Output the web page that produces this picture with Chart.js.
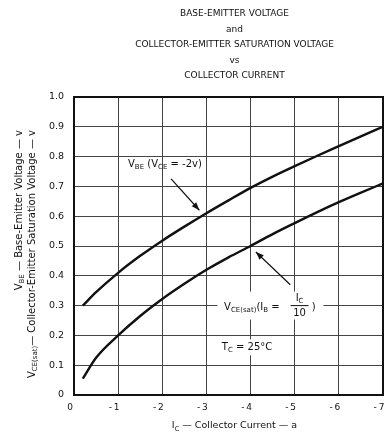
<!DOCTYPE html>
<html>
<head>
<meta charset="utf-8">
<script src="https://cdn.jsdelivr.net/npm/chart.js@4"></script>
<style>
  html, body { margin: 0; padding: 0; background: #fff; }
  #wrap { width: 386px; height: 445px; position: relative; }
</style>
</head>
<body>
<div id="wrap"><canvas id="chart"></canvas></div>
<script>
// collector current (a) and the two curves
const currentA = [-0.2, -0.5, -1, -1.5, -2, -2.5, -3, -3.5, -4, -4.5, -5, -5.5, -6, -6.5, -7];
const vbe = [0.30, 0.345, 0.41, 0.467, 0.518, 0.565, 0.61, 0.653, 0.695, 0.733, 0.768, 0.802, 0.835, 0.868, 0.90];
const vceSat = [0.055, 0.125, 0.20, 0.265, 0.322, 0.373, 0.42, 0.462, 0.50, 0.54, 0.577, 0.613, 0.647, 0.679, 0.71];

const titleLines = ['BASE-EMITTER VOLTAGE', 'and', 'COLLECTOR-EMITTER SATURATION VOLTAGE', 'vs', 'COLLECTOR CURRENT'];
const xTicks = [0, -1, -2, -3, -4, -5, -6, -7];
const yTicks = [0, 0.1, 0.2, 0.3, 0.4, 0.5, 0.6, 0.7, 0.8, 0.9, 1.0];

const FONT = '"DejaVu Sans", sans-serif';

// draw text with subscript parts: parts = [[text, isSub], ...]
function richWidth(ctx, parts, size) {
    let w = 0;
    parts.forEach(p => {
        ctx.font = (p[1] ? size * 0.7 : size) + 'px ' + FONT;
        w += ctx.measureText(p[0]).width;
    });
    return w;
}
function drawRich(ctx, x, y, parts, size, align) {
    const w = richWidth(ctx, parts, size);
    let cx = x;
    if (align === 'center') cx = x - w / 2;
    if (align === 'right') cx = x - w;
    ctx.textAlign = 'left';
    ctx.textBaseline = 'middle';
    parts.forEach(p => {
        ctx.font = (p[1] ? size * 0.7 : size) + 'px ' + FONT;
        ctx.fillText(p[0], cx, p[1] ? y + size * 0.3 : y);
        cx += ctx.measureText(p[0]).width;
    });
    return w;
}
function arrow(ctx, x1, y1, x2, y2) {
    ctx.beginPath();
    ctx.moveTo(x1, y1);
    ctx.lineTo(x2, y2);
    ctx.lineWidth = 1.2;
    ctx.stroke();
    const a = Math.atan2(y2 - y1, x2 - x1);
    const L = 8, W = 3;
    ctx.beginPath();
    ctx.moveTo(x2, y2);
    ctx.lineTo(x2 - L * Math.cos(a) + W * Math.sin(a), y2 - L * Math.sin(a) - W * Math.cos(a));
    ctx.lineTo(x2 - L * Math.cos(a) - W * Math.sin(a), y2 - L * Math.sin(a) + W * Math.cos(a));
    ctx.closePath();
    ctx.fill();
}

const decor = {
    id: 'decor',
    afterDatasetsDraw(chart) {
        const ctx = chart.ctx;
        const xs = chart.scales.x, ys = chart.scales.y;
        const area = chart.chartArea;
        const px = v => xs.getPixelForValue(v);
        const py = v => ys.getPixelForValue(v);
        ctx.save();
        ctx.fillStyle = '#111';
        ctx.strokeStyle = '#111';

        // frame
        ctx.lineWidth = 2;
        ctx.strokeRect(area.left, area.top, area.right - area.left, area.bottom - area.top);

        // title
        ctx.font = '9px ' + FONT;
        ctx.textAlign = 'center';
        ctx.textBaseline = 'middle';
        const tc = (area.left + area.right) / 2 + 6;
        titleLines.forEach((t, i) => ctx.fillText(t, tc, 14 + i * 15.5));

        // y axis title (two rotated lines, top aligned)
        ctx.save();
        ctx.translate(19, 130);
        ctx.rotate(-Math.PI / 2);
        drawRich(ctx, 0, 0, [['V', 0], ['BE', 1], [' \u2014 Base-Emitter Voltage \u2014 v', 0]], 10, 'right');
        ctx.restore();
        ctx.save();
        ctx.translate(32, 130);
        ctx.rotate(-Math.PI / 2);
        drawRich(ctx, 0, 0, [['V', 0], ['CE(sat)', 1], ['\u2014 Collector-Emitter Saturation Voltage \u2014 v', 0]], 10, 'right');
        ctx.restore();

        // x axis title
        drawRich(ctx, tc, 426, [['I', 0], ['C', 1], [' \u2014 Collector Current \u2014 a', 0]], 9.5, 'center');

        // VBE label and arrow
        drawRich(ctx, px(-2.06), py(0.775), [['V', 0], ['BE', 1], [' (V', 0], ['CE', 1], [' = -2v)', 0]], 10, 'center');
        arrow(ctx, px(-2.2), py(0.725), px(-2.84), py(0.62));

        // VCE(sat) label with white box
        const lx = px(-3.4), ly = py(0.3);
        ctx.fillStyle = '#fff';
        ctx.fillRect(px(-3.25), ly - 14, px(-5.65) - px(-3.25), 28);
        ctx.fillStyle = '#111';
        let w = drawRich(ctx, lx, ly + 2, [['V', 0], ['CE(sat)', 1], ['(I', 0], ['B', 1], [' =', 0]], 10, 'left');
        const fx = lx + w + 20;
        drawRich(ctx, fx, ly - 7, [['I', 0], ['C', 1]], 10, 'center');
        ctx.lineWidth = 1;
        ctx.beginPath();
        ctx.moveTo(fx - 9, ly);
        ctx.lineTo(fx + 9, ly);
        ctx.stroke();
        ctx.font = '10px ' + FONT;
        ctx.textAlign = 'center';
        ctx.fillText('10', fx, ly + 8);
        ctx.fillText(')', fx + 14, ly + 2);
        arrow(ctx, px(-4.9), py(0.37), px(-4.12), py(0.48));

        // TC label with white box
        const tx = px(-3.92), ty = py(0.16);
        ctx.fillStyle = '#fff';
        ctx.fillRect(px(-3.1), ty - 8, px(-4.5) - px(-3.1), 16);
        ctx.fillStyle = '#111';
        drawRich(ctx, tx, ty, [['T', 0], ['C', 1], [' = 25\u00b0C', 0]], 10, 'center');

        ctx.restore();
    }
};

new Chart(document.getElementById('chart'), {
    type: 'line',
    data: {
        datasets: [
            {
                label: 'VBE',
                data: currentA.map((x, i) => ({ x: x, y: vbe[i] })),
                borderColor: '#111',
                borderWidth: 2.4,
                pointRadius: 0,
                cubicInterpolationMode: 'monotone',
                fill: false
            },
            {
                label: 'VCE(sat)',
                data: currentA.map((x, i) => ({ x: x, y: vceSat[i] })),
                borderColor: '#111',
                borderWidth: 2.4,
                pointRadius: 0,
                cubicInterpolationMode: 'monotone',
                fill: false
            }
        ]
    },
    options: {
        responsive: true,
        maintainAspectRatio: false,
        animation: false,
        layout: { padding: { left: 0, top: 97, right: 3, bottom: 0 } },
        plugins: {
            legend: { display: false },
            tooltip: { enabled: false },
            title: { display: false }
        },
        scales: {
            x: {
                type: 'linear',
                reverse: true,
                min: -7,
                max: 0,
                afterFit(scale) {
                    scale.height = 50;
                    scale.paddingLeft = 0;
                    scale.paddingRight = 0;
                },
                afterBuildTicks(scale) { scale.ticks = xTicks.map(v => ({ value: v })); },
                grid: { color: '#444', lineWidth: 1, drawTicks: false },
                border: { display: false },
                ticks: {
                    color: '#111',
                    padding: 7,
                    labelOffset: -4,
                    maxRotation: 0,
                    font: { family: FONT, size: 9 },
                    callback: v => v === 0 ? '0' : '-\u2009' + Math.abs(v)
                }
            },
            y: {
                type: 'linear',
                min: 0,
                max: 1,
                afterFit(scale) {
                    scale.width = 74;
                    scale.paddingTop = 0;
                    scale.paddingBottom = 0;
                },
                afterBuildTicks(scale) { scale.ticks = yTicks.map(v => ({ value: v })); },
                grid: { color: '#444', lineWidth: 1, drawTicks: false },
                border: { display: false },
                ticks: {
                    color: '#111',
                    padding: 10,
                    font: { family: FONT, size: 9.5 },
                    callback: v => v === 0 ? '0' : v.toFixed(1)
                }
            }
        }
    },
    plugins: [decor]
});
</script>
</body>
</html>
